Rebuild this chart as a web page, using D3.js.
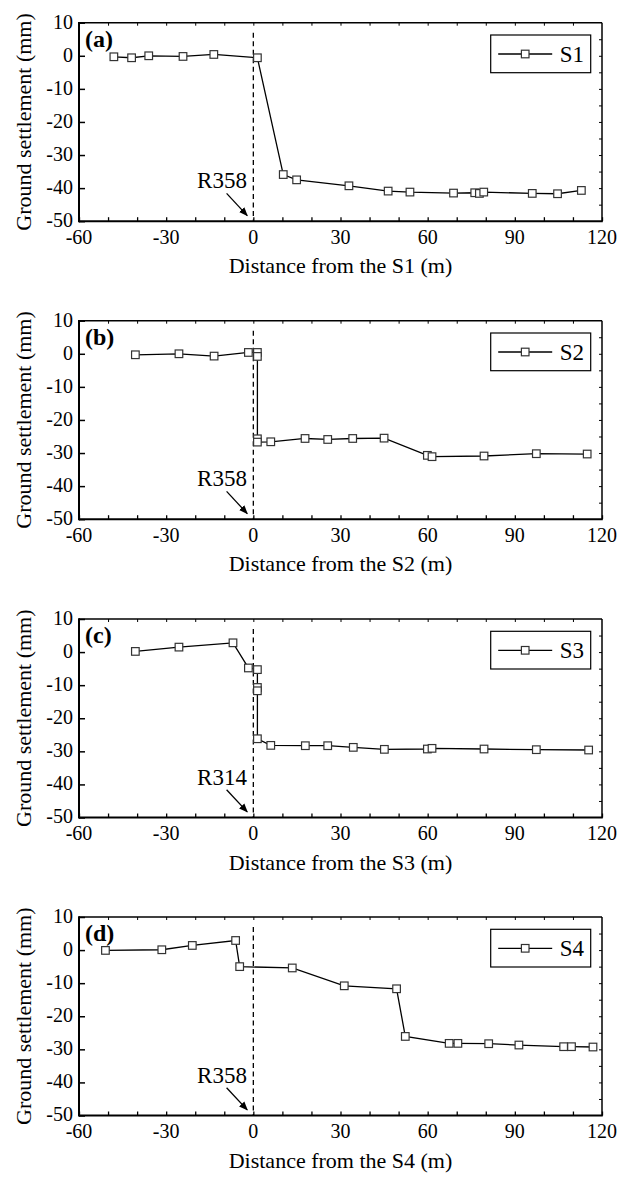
<!DOCTYPE html>
<html><head><meta charset="utf-8">
<script src="https://cdn.jsdelivr.net/npm/d3@7"></script>
<style>body{margin:0;background:#fff}svg{display:block}text{font-family:"Liberation Serif","Times New Roman",serif;fill:#000}</style>
</head><body><svg id="c" width="625" height="1177"></svg>
<script>
// ---- data ----
const panelLabels = ["(a)", "(b)", "(c)", "(d)"];
const seriesNames = ["S1", "S2", "S3", "S4"];
const ringLabels = ["R358", "R358", "R314", "R358"];
const xTickLabels = [-60, -30, 0, 30, 60, 90, 120];
const yTickLabels = [10, 0, -10, -20, -30, -40, -50];

const s1x = [-48, -41.9, -36, -24.2, -13.6, 1.4, 10.3, 14.9, 32.9, 46.4, 53.9, 68.9, 76.2, 77.8, 79.3, 96, 104.7, 112.9];
const s1y = [-0.3, -0.6, 0, -0.2, 0.4, -0.6, -35.9, -37.5, -39.3, -40.9, -41.2, -41.5, -41.4, -41.6, -41.2, -41.6, -41.7, -40.7];

const s2x = [-40.6, -25.6, -13.5, -1.7, 1.4, 1.4, 1.4, 1.4, 6.0, 17.8, 25.6, 34.2, 45.0, 59.9, 61.5, 79.4, 97.4, 114.9];
const s2y = [-0.3, 0, -0.7, 0.4, 0.4, -0.8, -25.7, -26.7, -26.6, -25.6, -25.9, -25.6, -25.5, -30.7, -31.1, -30.9, -30.2, -30.3];

const s3x = [-40.6, -25.6, -7.0, -1.7, 1.4, 1.4, 1.4, 1.4, 6.0, 17.9, 25.6, 34.4, 45.1, 59.9, 61.5, 79.4, 97.4, 115.4];
const s3y = [0.2, 1.5, 2.8, -4.8, -5.3, -10.7, -11.7, -26.2, -28.2, -28.3, -28.3, -28.8, -29.4, -29.3, -29.1, -29.3, -29.5, -29.6];

const s4x = [-50.9, -31.5, -21.0, -6.1, -4.7, 13.4, 31.3, 49.3, 52.3, 67.4, 70.4, 81.0, 91.4, 106.8, 109.5, 116.9];
const s4y = [-0.1, 0.1, 1.4, 2.9, -5.0, -5.4, -10.8, -11.7, -26.1, -28.2, -28.2, -28.3, -28.7, -29.2, -29.2, -29.3];

const seriesX = [s1x, s2x, s3x, s4x];
const seriesY = [s1y, s2y, s3y, s4y];

// ---- layout ----
const svg = d3.select("#c");
const left = 79, width = 523, height = 198.5;
const tops = [22.7, 320.7, 619, 917];

const defs = svg.append("defs");
defs.append("marker").attr("id", "ah").attr("viewBox", "0 0 10 10")
  .attr("refX", 9).attr("refY", 5).attr("markerWidth", 9).attr("markerHeight", 9)
  .attr("markerUnits", "userSpaceOnUse").attr("orient", "auto")
  .append("path").attr("d", "M0,1 L10,5 L0,9 Z").attr("fill", "#000");

panelLabels.forEach((lab, i) => {
  const top = tops[i];
  const g = svg.append("g").attr("transform", `translate(${left},${top})`);
  const x = d3.scaleLinear().domain([-60, 120]).range([0, width]);
  const y = d3.scaleLinear().domain([-50, 10]).range([height, 0]);

  // bottom axis: ticks every 10 inward, labels every 30
  const bx = g.append("g").attr("transform", `translate(0,${height})`)
    .call(d3.axisBottom(x).tickValues(d3.range(-60, 121, 10)).tickSize(-4).tickFormat(""));
  bx.select(".domain").remove();
  bx.selectAll("line").attr("stroke", "#000").attr("stroke-width", 1.3);
  g.append("g").selectAll("text").data(xTickLabels).join("text")
    .attr("x", d => x(d)).attr("y", height + 22.5).attr("text-anchor", "middle")
    .attr("font-size", 20).text(d => d);

  // top axis ticks
  const tx = g.append("g").call(d3.axisTop(x).tickValues(d3.range(-50, 120, 10)).tickSize(-3).tickFormat(""));
  tx.select(".domain").remove();
  tx.selectAll("line").attr("stroke", "#000").attr("stroke-width", 1);

  // left axis
  const ly = g.append("g").call(d3.axisLeft(y).tickValues(yTickLabels).tickSize(-6).tickFormat(""));
  ly.select(".domain").remove();
  ly.selectAll("line").attr("stroke", "#000").attr("stroke-width", 1.5);
  g.append("g").selectAll("text").data(yTickLabels).join("text")
    .attr("x", -6).attr("y", d => y(d) + 5.8).attr("text-anchor", "end")
    .attr("font-size", 20).text(d => d);

  // right axis small ticks
  const ry = g.append("g").attr("transform", `translate(${width},0)`)
    .call(d3.axisRight(y).tickValues(d3.range(-45, 10, 5)).tickSize(-3).tickFormat(""));
  ry.select(".domain").remove();
  ry.selectAll("line").attr("stroke", "#000").attr("stroke-width", 1);

  // frame
  g.append("line").attr("x1", 0).attr("x2", width).attr("y1", 0).attr("y2", 0).attr("stroke", "#000").attr("stroke-width", 1.5);
  g.append("line").attr("x1", width).attr("x2", width).attr("y1", 0).attr("y2", height).attr("stroke", "#000").attr("stroke-width", 1.5);
  g.append("line").attr("x1", 0).attr("x2", width + 0.75).attr("y1", height).attr("y2", height).attr("stroke", "#000").attr("stroke-width", 2);
  g.append("line").attr("x1", 0).attr("x2", 0).attr("y1", -0.75).attr("y2", height + 1).attr("stroke", "#000").attr("stroke-width", 2);

  // dashed line at 0
  g.append("line").attr("x1", x(0)).attr("x2", x(0)).attr("y1", y(7)).attr("y2", y(-50))
    .attr("stroke", "#000").attr("stroke-width", 1.3).attr("stroke-dasharray", "5,3.5");

  // ring label & arrow
  g.append("text").attr("x", x(-2.2)).attr("y", y(-40.1)).attr("text-anchor", "end")
    .attr("font-size", 23).text(ringLabels[i]);
  g.append("line").attr("x1", x(-9.2)).attr("y1", y(-41.6)).attr("x2", x(-2.1)).attr("y2", y(-48.3))
    .attr("stroke", "#000").attr("stroke-width", 1.3).attr("marker-end", "url(#ah)");

  // panel label
  g.append("text").attr("x", 6).attr("y", 24).attr("font-size", 24).attr("font-weight", "bold").text(lab);

  // series
  const pts = seriesX[i].map((v, k) => [v, seriesY[i][k]]);
  g.append("path").datum(pts)
    .attr("d", d3.line().x(d => x(d[0])).y(d => y(d[1])))
    .attr("fill", "none").attr("stroke", "#000").attr("stroke-width", 1.3);
  g.append("g").selectAll("rect").data(pts).join("rect")
    .attr("x", d => x(d[0]) - 3.8).attr("y", d => y(d[1]) - 3.8)
    .attr("width", 7.6).attr("height", 7.6)
    .attr("fill", "#fff").attr("stroke", "#333").attr("stroke-width", 1.2);

  // legend
  const lg = g.append("g").attr("transform", `translate(${490.7 - left},12.3)`);
  lg.append("rect").attr("x", 0).attr("y", 0).attr("width", 100).attr("height", 37.7)
    .attr("fill", "#fff").attr("stroke", "#000").attr("stroke-width", 1.2);
  lg.append("line").attr("x1", 7.5).attr("x2", 61.5).attr("y1", 19).attr("y2", 19).attr("stroke", "#000").attr("stroke-width", 1.3);
  lg.append("rect").attr("x", 34.5 - 3.8).attr("y", 19 - 3.8).attr("width", 7.6).attr("height", 7.6)
    .attr("fill", "#fff").attr("stroke", "#333").attr("stroke-width", 1.2);
  lg.append("text").attr("x", 69).attr("y", 27).attr("font-size", 23).text(seriesNames[i]);

  // axis titles
  g.append("text").attr("x", width / 2).attr("y", height + 52).attr("text-anchor", "middle")
    .attr("font-size", 22).text(`Distance from the ${seriesNames[i]} (m)`);
  g.append("text").attr("transform", `translate(${31 - left},${height / 2}) rotate(-90)`)
    .attr("text-anchor", "middle").attr("font-size", 22).text("Ground settlement (mm)");
});
</script></body></html>
